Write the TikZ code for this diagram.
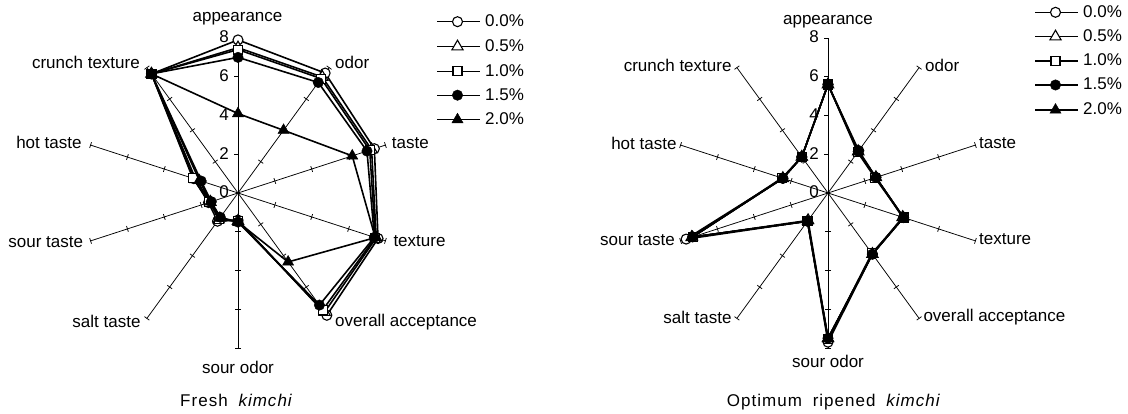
\documentclass[tikz,border=0pt]{standalone}
\usepackage{fontspec}
\setmainfont{Liberation Sans}
\newfontfamily\capfont[LetterSpace=6]{Liberation Sans}
\usetikzlibrary{calc,shapes.geometric}

\newcommand\radaraxes[1]{%
  \foreach \ang [count=\i] in {90,54,18,-18,-54,-90,-126,-162,162,126} {
    \draw[axis] (#1c) -- ($(#1c)+(\ang:155)$) coordinate (#1e\i);
    \pgfmathsetmacro\pa{\ang+90}
    \pgfmathsetmacro\pb{\ang-90}
    \foreach \t in {2,4,6,8} {
      \pgfmathsetmacro\rr{\t*19.375}
      \ifnum\i=1
        \draw[axis] ($(#1c)+(0,\rr)$) -- ++(-4.5,0);
      \else
        \draw[axis] ($(#1c)+(\ang:\rr)$) ++(\pa:3) -- ++(\pb:6);
      \fi
    }
  }
  \foreach \t in {0,2,4,6,8} {
    \pgfmathsetmacro\rr{\t*19.375}
    \node[lab, anchor=east] (#1t\t) at ($(#1c)+(-9,\rr)$) {\t};
  }
}

\newcommand\series[4]{%
  \foreach \v [count=\i] in {#4} {
    \pgfmathsetmacro\ang{126-36*\i}
    \pgfmathsetmacro\rr{\v*19.375}
    \coordinate (#2p\i) at ($(#1c)+(\ang:\rr)$);
  }
  \draw[series] (#2p1) -- (#2p2) -- (#2p3) -- (#2p4) -- (#2p5) -- (#2p6)
    -- (#2p7) -- (#2p8) -- (#2p9) -- (#2p10) -- cycle;
  \foreach \i in {1,...,10} { \node[#3] (#2m\i) at (#2p\i) {}; }
}

\newcommand\legendrow[5]{% x0, y, marker, text, name
  \coordinate (#5a) at (#1,#2);
  \coordinate (#5b) at ($(#1,#2)+(43,0)$);
  \draw[legline] (#5a) -- (#5b);
  \node[#3] (#5m) at ($(#1,#2)+(20.5,0)$) {};
  \node[lab, anchor=west] (#5t) at ($(#1,#2)+(48,0)$) {#4};
}

\begin{document}
\begin{tikzpicture}[x=1pt,y=1pt,
  axis/.style={line width=0.75pt, black},
  series/.style={line width=1.6pt, black, line join=round},
  legline/.style={line width=1.2pt, black},
  lab/.style={font=\fontsize{17}{20}\selectfont, inner sep=0pt, text height=10pt, text depth=0pt},
  mkO/.style={circle, draw, fill=white, line width=1.1pt, minimum size=10pt, inner sep=0pt},
  mkT/.style={regular polygon, regular polygon sides=3, draw, fill=white, line width=1.1pt, minimum size=13pt, inner sep=0pt},
  mkS/.style={rectangle, draw, fill=white, line width=1.1pt, minimum size=9pt, inner sep=0pt},
  mkC/.style={circle, draw, fill=black, minimum size=10.5pt, inner sep=0pt},
  mkF/.style={regular polygon, regular polygon sides=3, draw, fill=black, minimum size=13pt, inner sep=0pt},
]
\useasboundingbox (0,0) rectangle (1128,414);

\coordinate (Lc) at (238,221);
\coordinate (Rc) at (828,221);

% ---------- left chart: fresh kimchi ----------
\radaraxes{L}
\series{L}{LA}{mkO}{7.9,7.65,7.4,7.6,7.8,1.4,1.8,1.6,2.4,7.6}
\series{L}{LB}{mkT}{7.5,7.4,7.25,7.5,7.6,1.45,1.7,1.5,2.3,7.6}
\series{L}{LD}{mkS}{7.4,7.3,7.15,7.45,7.45,1.45,1.65,1.55,2.45,7.6}
\series{L}{LE}{mkC}{7.0,7.05,7.0,7.4,7.15,1.5,1.55,1.45,2.0,7.6}
\series{L}{LF}{mkF}{4.1,4.0,6.2,7.45,4.4,1.5,1.6,1.5,2.1,7.6}

\node[lab, anchor=center] (Lappear) at (237.5,397.3) {appearance};
\node[lab, anchor=west] (Lodor) at (335,350.7) {odor};
\node[lab, anchor=west] (Ltaste) at (391.7,270.7) {taste};
\node[lab, anchor=west] (Ltexture) at (393.3,172.3) {texture};
\node[lab, anchor=west] (Loverall) at (335,92.3) {overall acceptance};
\node[lab, anchor=center] (Lsourodor) at (238,45.7) {sour odor};
\node[lab, anchor=east] (Lsalt) at (140.7,91.7) {salt taste};
\node[lab, anchor=east] (Lsourtaste) at (83.3,171.3) {sour taste};
\node[lab, anchor=east] (Lhot) at (81.7,270) {hot taste};
\node[lab, anchor=east] (Lcrunch) at (140,350.7) {crunch texture};

\legendrow{437}{392.3}{mkO}{0.0\%}{LgA}
\legendrow{437}{367.3}{mkT}{0.5\%}{LgB}
\legendrow{437}{342.8}{mkS}{1.0\%}{LgC}
\legendrow{437}{318.8}{mkC}{1.5\%}{LgD}
\legendrow{437}{294.3}{mkF}{2.0\%}{LgE}

\node[lab, anchor=center, font=\capfont\fontsize{17}{20}\selectfont] (Lcap) at (236.7,12.3) {Fresh\hspace{5pt} \textit{kimchi}};

% ---------- right chart: optimum ripened kimchi ----------
\radaraxes{R}
\series{R}{RA}{mkO}{5.6,2.7,2.6,4.1,3.9,7.7,1.8,7.7,2.45,2.3}
\series{R}{RB}{mkT}{5.6,2.65,2.6,4.05,3.9,7.5,1.75,7.4,2.45,2.3}
\series{R}{RD}{mkS}{5.6,2.6,2.55,4.1,3.85,7.55,1.8,7.35,2.5,2.3}
\series{R}{RE}{mkC}{5.6,2.65,2.6,4.1,3.9,7.5,1.8,7.35,2.45,2.3}
\series{R}{RF}{mkF}{5.6,2.65,2.6,4.1,3.9,7.5,1.8,7.35,2.45,2.3}

\node[lab, anchor=center] (Rappear) at (828,394) {appearance};
\node[lab, anchor=west] (Rodor) at (925,347.3) {odor};
\node[lab, anchor=west] (Rtaste) at (979,270.7) {taste};
\node[lab, anchor=west] (Rtexture) at (979,174.7) {texture};
\node[lab, anchor=west] (Roverall) at (923.3,97.3) {overall acceptance};
\node[lab, anchor=center] (Rsourodor) at (828,51) {sour odor};
\node[lab, anchor=east] (Rsalt) at (731.7,95.7) {salt taste};
\node[lab, anchor=east] (Rsourtaste) at (675,173.3) {sour taste};
\node[lab, anchor=east] (Rhot) at (676.7,269) {hot taste};
\node[lab, anchor=east] (Rcrunch) at (731.7,347.3) {crunch texture};

\legendrow{1035}{401.7}{mkO}{0.0\%}{RgA}
\legendrow{1035}{377.3}{mkT}{0.5\%}{RgB}
\legendrow{1035}{353}{mkS}{1.0\%}{RgC}
\legendrow{1035}{329}{mkC}{1.5\%}{RgD}
\legendrow{1035}{304}{mkF}{2.0\%}{RgE}

\node[lab, anchor=center, font=\capfont\fontsize{17}{20}\selectfont] (Rcap) at (834,12) {Optimum\hspace{5pt} ripened\hspace{5pt} \textit{kimchi}};
\end{tikzpicture}
\end{document}
